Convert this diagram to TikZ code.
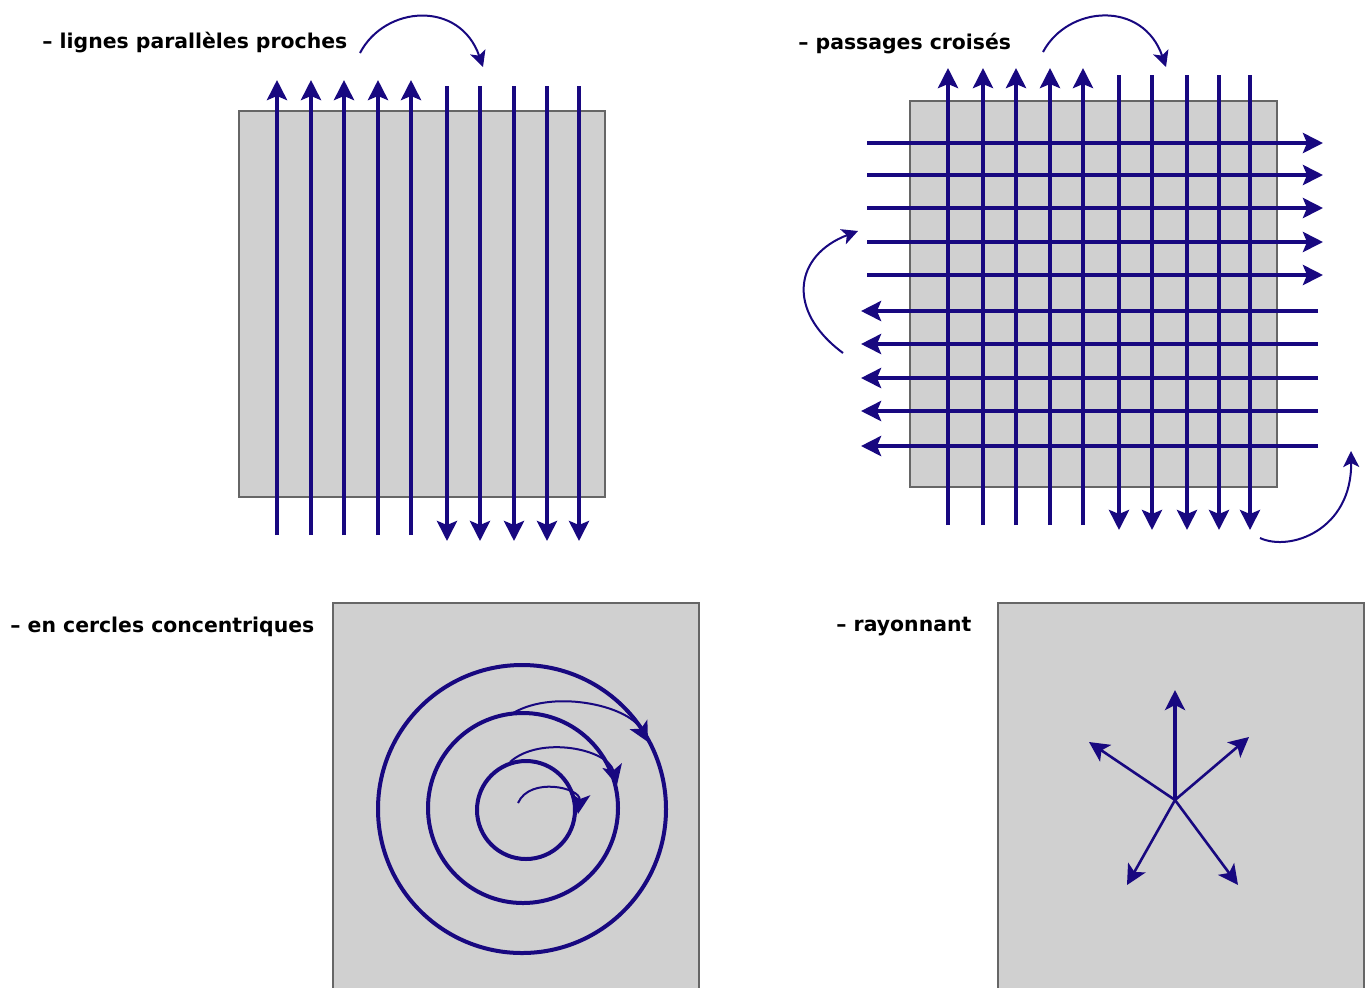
\documentclass[tikz,border=0pt]{standalone}
\usepackage{fontspec}
\setmainfont{DejaVu Sans}
\usetikzlibrary{arrows.meta}
\definecolor{flow}{RGB}{24,8,128}
\definecolor{platefill}{RGB}{208,208,208}

\begin{document}
\begin{tikzpicture}[x=0.5pt,y=-0.5pt,
  plate/.style={fill=platefill,draw=black!60,line width=0.9pt},
  edge/.style={draw=black!60,line width=0.9pt},
  pass/.style={draw=flow,line width=2pt,-{Stealth[length=10pt,width=10pt,inset=2pt]}},
  turn/.style={draw=flow,line width=1pt,-{Stealth[length=8pt,width=8pt,inset=2pt]}},
  ring/.style={draw=flow,line width=2pt},
  spin/.style={draw=flow,line width=1pt,-{Stealth[length=10pt,width=10pt,inset=2.5pt]}},
  ray/.style={draw=flow,line width=1.3pt,-{Stealth[length=10pt,width=10pt,inset=2.5pt]}},
  caption/.style={font=\bfseries\fontsize{10.2}{12}\selectfont,anchor=west,inner sep=0pt}]
\useasboundingbox (0,0) rectangle (1370,987);
% lignes paralleles proches
\node[caption] (t1) at (42,43) {– lignes parallèles proches};
\draw[plate] (239,111) rectangle (605,497);
\draw[pass] (277,535) -- (277,80);
\draw[pass] (311,535) -- (311,80);
\draw[pass] (344,535) -- (344,80);
\draw[pass] (378,535) -- (378,80);
\draw[pass] (411,535) -- (411,80);
\draw[pass] (447,86) -- (447,541);
\draw[pass] (480,86) -- (480,541);
\draw[pass] (514,86) -- (514,541);
\draw[pass] (547,86) -- (547,541);
\draw[pass] (579,86) -- (579,541);
\coordinate (a0) at (360,53);
\coordinate (a1) at (483,67);
\draw[turn] (a0) .. controls (385,5) and (460,0) .. (a1);
% passages croises
\node[caption] (t2) at (798,44) {– passages croisés};
\draw[plate] (910,101) rectangle (1277,487);
\draw[pass] (948,525) -- (948,68);
\draw[pass] (983,525) -- (983,68);
\draw[pass] (1016,525) -- (1016,68);
\draw[pass] (1050,525) -- (1050,68);
\draw[pass] (1083,525) -- (1083,68);
\draw[pass] (1119,75) -- (1119,530);
\draw[pass] (1152,75) -- (1152,530);
\draw[pass] (1187,75) -- (1187,530);
\draw[pass] (1219,75) -- (1219,530);
\draw[pass] (1250,75) -- (1250,530);
\draw[pass] (867,143) -- (1323,143);
\draw[pass] (867,175) -- (1323,175);
\draw[pass] (867,208) -- (1323,208);
\draw[pass] (867,242) -- (1323,242);
\draw[pass] (867,275) -- (1323,275);
\draw[pass] (1318,311) -- (861,311);
\draw[pass] (1318,344) -- (861,344);
\draw[pass] (1318,378) -- (861,378);
\draw[pass] (1318,411) -- (861,411);
\draw[pass] (1318,446) -- (861,446);
\coordinate (b0) at (1043,52);
\coordinate (b1) at (1166,67);
\coordinate (b2) at (843,353);
\coordinate (b3) at (858,231);
\coordinate (b4) at (1260,538);
\coordinate (b5) at (1351,451);
\draw[turn] (b0) .. controls (1068,5) and (1143,0) .. (b1);
\draw[turn] (b2) .. controls (785,310) and (795,255) .. (b3);
\draw[turn] (b4) .. controls (1290,552) and (1352,530) .. (b5);
% en cercles concentriques
\node[caption] (t3) at (10,627) {– en cercles concentriques};
\fill[platefill] (333,603) rectangle (699,995);
\draw[edge] (333,995) |- (699,603) -- (699,995);
\draw[ring] (522,809) circle[radius=72pt];
\draw[ring] (523,808) circle[radius=47.5pt];
\draw[ring] (526,810) circle[radius=24.5pt];
\coordinate (c0) at (518,803);
\coordinate (c1) at (578,814);
\coordinate (c2) at (510,762);
\coordinate (c3) at (617,785);
\coordinate (c4) at (510,715);
\coordinate (c5) at (648,742);
\draw[spin] (c0) .. controls (530,776) and (581,788) .. (c1);
\draw[spin] (c2) .. controls (540,735) and (608,749) .. (c3);
\draw[spin] (c4) .. controls (550,688) and (628,705) .. (c5);
% rayonnant
\node[caption] (t4) at (836,627) {– rayonnant};
\fill[platefill] (998,603) rectangle (1364,995);
\draw[edge] (998,995) |- (1364,603) -- (1364,995);
\coordinate (o) at (1175,800);
\draw[ray,line width=2pt] (o) -- (1175,690);
\draw[ray] (o) -- (1089,742);
\draw[ray] (o) -- (1249,737);
\draw[ray] (o) -- (1127,885);
\draw[ray] (o) -- (1238,885);
\end{tikzpicture}
\end{document}
